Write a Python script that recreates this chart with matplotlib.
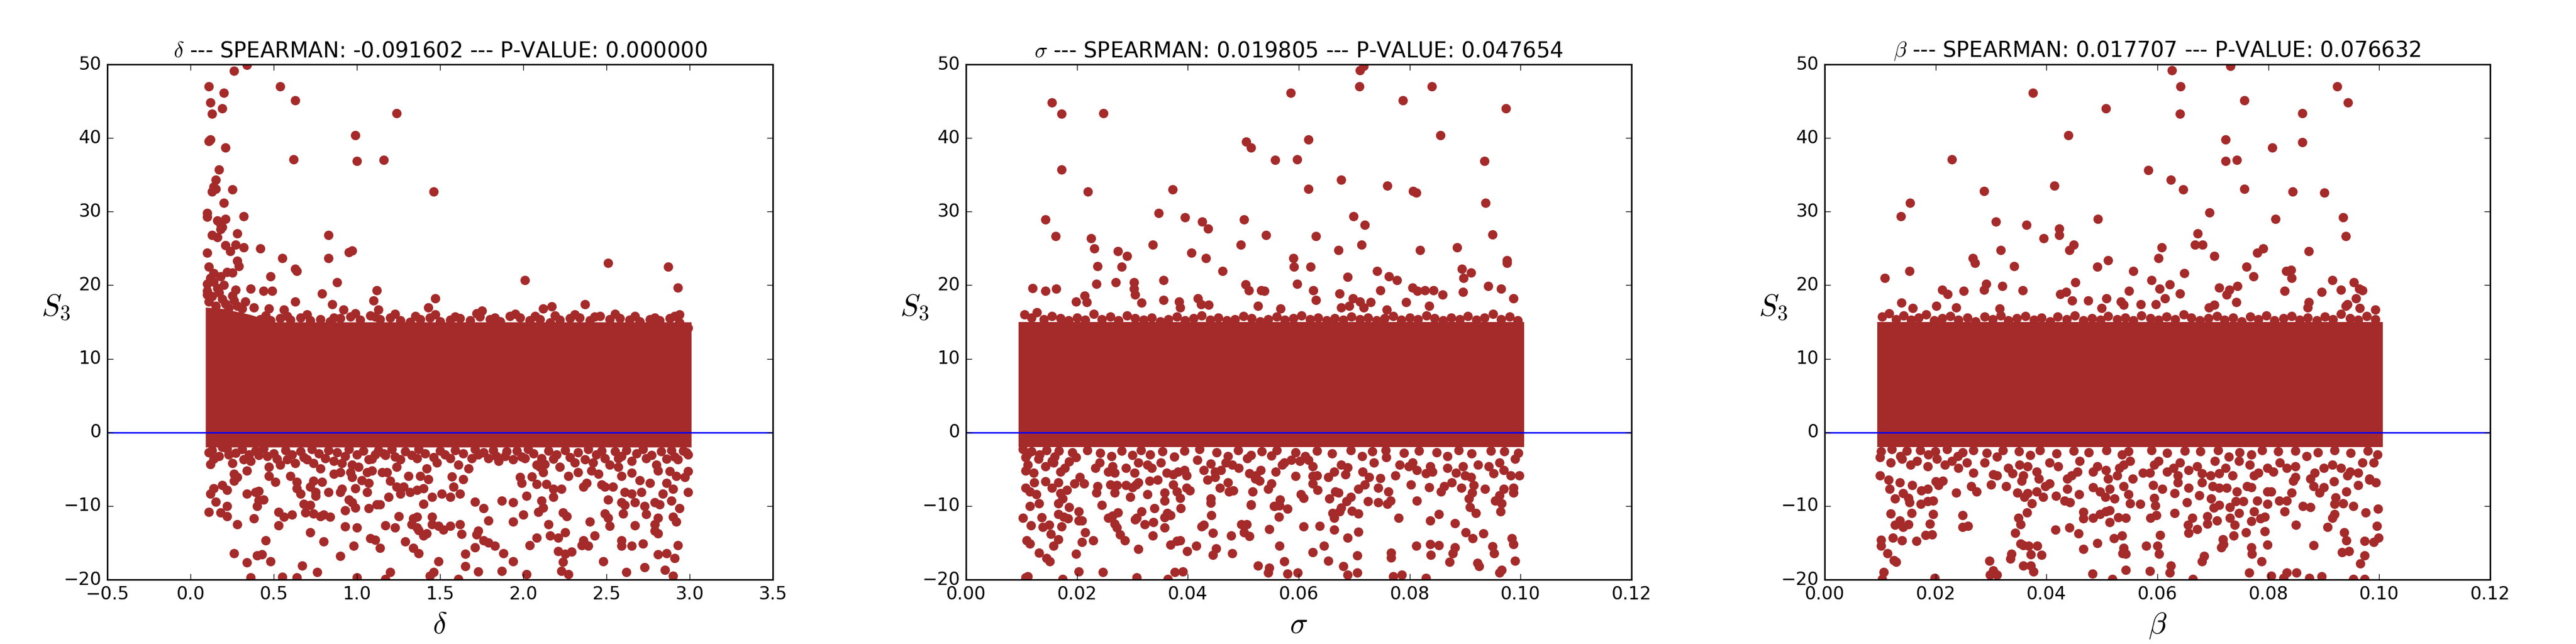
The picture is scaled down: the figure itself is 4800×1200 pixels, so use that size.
import numpy as np
import matplotlib
matplotlib.use('Agg')
import matplotlib.pyplot as plt

plt.style.use('classic')

# ---- panel titles / labels ----
params = [r'\delta', r'\sigma', r'\beta']
spearman = ['-0.091602', '0.019805', '0.017707']
pvalue = ['0.000000', '0.047654', '0.076632']
xlims = [(-0.5, 3.5), (0.0, 0.12), (0.0, 0.12)]
ylim = (-20, 50)

# ---- dense core of each cloud: x range, top and bottom edge ----
core_x = [[0.09, 0.20, 0.36, 0.50, 3.01], [0.0095, 0.1006], [0.0095, 0.1006]]
core_top = [[17.0, 16.8, 16.0, 15.0, 15.0], [15.0, 15.0], [15.0, 15.0]]
core_bot = [[-2.0, -2.0, -2.0, -2.0, -2.0], [-2.0, -2.0], [-2.0, -2.0]]

# ---- delta: points above the core ----
delta_high = [
    (0.11, 47.0), (0.20, 46.1), (0.12, 44.8), (0.19, 44.0), (0.13, 43.3), (0.26, 49.1),
    (0.34, 49.9), (0.54, 47.0), (0.63, 45.1), (1.24, 43.4), (0.99, 40.4), (1.00, 36.9),
    (0.62, 37.1), (1.16, 37.0), (1.46, 32.7), (0.11, 39.6), (0.12, 39.8), (0.21, 38.7),
    (0.17, 35.7), (0.15, 34.3), (0.14, 33.4), (0.15, 33.1), (0.13, 32.7), (0.25, 33.0),
    (0.20, 31.2), (0.10, 29.8), (0.10, 29.3), (0.32, 29.4), (0.21, 29.0), (0.16, 28.8),
    (0.18, 28.3), (0.19, 27.9), (0.18, 27.6), (0.13, 26.8), (0.16, 26.5), (0.28, 27.0),
    (0.83, 26.8), (0.21, 25.4), (0.27, 25.5), (0.32, 25.1), (0.42, 25.0), (0.24, 24.6),
    (0.95, 24.5), (0.97, 24.7), (0.10, 24.4), (0.55, 23.7), (0.83, 23.7), (0.28, 23.3),
    (0.29, 22.6), (2.51, 23.0), (2.87, 22.5), (0.11, 22.5), (0.63, 22.2), (0.64, 21.9),
    (0.22, 21.8), (0.25, 21.7), (0.48, 21.2), (2.01, 20.7), (0.88, 20.4), (2.93, 19.7),
    (0.10, 20.2), (0.12, 20.8), (0.14, 21.6), (0.27, 19.4), (0.36, 19.5), (0.49, 19.2),
    (0.44, 19.2), (0.79, 18.9), (1.12, 19.3), (1.47, 18.2), (0.10, 18.7), (0.63, 17.8),
    (1.10, 17.9), (0.85, 17.4), (1.43, 17.0), (2.37, 17.4), (2.17, 17.1), (2.12, 16.8),
    (2.94, 16.0), (1.75, 16.5), (0.92, 16.7), (1.13, 16.7), (0.47, 16.8), (0.56, 16.7),
    (0.11, 17.8), (0.13, 18.5), (0.15, 17.2), (0.17, 19.0), (0.19, 18.1), (0.21, 17.5),
    (0.23, 16.9), (0.26, 17.9), (0.28, 17.2), (0.31, 16.8), (0.14, 20.5), (0.16, 19.6),
    (0.20, 20.0), (0.25, 18.6), (0.33, 17.8), (0.38, 17.0), (0.10, 19.2), (0.12, 21.0),
    (0.18, 21.2),
]

# ---- delta: points below the core ----
delta_low = [
    (0.11, -2.7), (0.19, -2.0), (0.12, -4.3), (0.14, -3.6), (0.23, -3.0), (0.25, -4.2),
    (0.32, -3.7), (0.36, -3.9), (0.41, -3.1), (0.46, -3.2), (0.47, -4.7), (0.54, -4.4),
    (0.58, -3.7), (0.63, -4.2), (0.70, -3.7), (0.74, -4.2), (0.78, -4.9), (0.86, -3.9),
    (0.91, -4.2), (0.97, -4.4), (1.01, -4.7), (1.07, -3.7), (1.11, -3.0), (1.17, -3.1),
    (1.24, -4.7), (1.26, -3.7), (1.36, -3.5), (1.42, -4.9), (1.48, -4.1), (1.56, -3.5),
    (1.61, -4.4), (1.67, -4.9), (1.73, -3.0), (1.79, -3.5), (1.85, -3.9), (1.89, -3.2),
    (1.94, -3.7), (2.01, -3.5), (2.08, -4.4), (2.13, -4.3), (2.18, -3.6), (2.22, -4.7),
    (2.31, -4.1), (2.37, -3.7), (2.42, -4.1), (2.49, -3.5), (2.52, -4.4), (2.59, -3.2),
    (2.65, -3.9), (2.74, -3.5), (2.80, -4.4), (2.86, -3.6), (2.93, -3.7), (2.98, -2.7),
    (0.34, -5.2), (0.26, -5.6), (0.28, -6.1), (0.26, -6.6), (0.19, -7.2), (0.14, -7.6),
    (0.12, -8.3), (0.22, -7.8), (0.15, -9.4), (0.22, -10.0), (0.11, -10.8), (0.18, -10.9),
    (0.22, -11.4), (0.28, -12.5), (0.34, -8.3), (0.39, -8.1), (0.41, -8.0), (0.41, -9.2),
    (0.44, -9.1), (0.40, -10.0), (0.38, -11.7), (0.47, -5.9), (0.51, -6.7), (0.53, -10.8),
    (0.56, -11.5), (0.61, -11.2), (0.53, -12.6), (0.60, -5.9), (0.64, -6.7), (0.64, -7.6),
    (0.66, -8.3), (0.68, -9.7), (0.69, -10.9), (0.72, -9.9), (0.72, -7.4), (0.74, -6.6),
    (0.75, -8.1), (0.75, -8.6), (0.74, -11.0), (0.78, -11.4), (0.80, -11.2), (0.84, -11.5),
    (0.79, -6.7), (0.83, -8.1), (0.90, -8.1), (0.91, -7.7), (0.86, -5.6), (0.90, -5.4),
    (0.96, -5.4), (0.97, -6.1), (0.99, -7.6), (0.95, -9.1), (0.97, -9.5), (0.99, -10.2),
    (0.93, -10.6), (1.03, -6.5), (1.06, -5.4), (1.07, -6.9), (1.06, -8.1), (1.07, -10.3),
    (1.12, -9.8), (1.14, -9.8), (1.09, -5.2), (1.15, -5.4), (1.18, -5.4), (1.20, -6.6),
    (1.19, -8.8), (1.24, -7.4), (1.26, -8.3), (1.28, -7.4), (1.31, -5.9), (1.32, -8.1),
    (1.36, -7.8), (1.38, -5.9), (1.40, -7.6), (1.43, -6.4), (1.45, -8.8), (1.40, -9.7),
    (1.25, -11.4), (1.34, -11.7), (1.36, -11.5), (1.33, -12.5), (1.36, -12.9), (1.45, -11.5),
    (1.45, -12.5), (1.49, -12.7), (1.52, -13.2), (1.37, -13.3), (1.42, -13.7), (1.40, -14.0),
    (1.17, -12.6), (1.23, -12.9), (0.93, -12.8), (1.00, -12.9), (0.72, -13.6), (0.80, -14.8),
    (0.45, -14.7), (0.26, -16.4), (0.40, -16.7), (0.43, -16.6), (0.34, -17.7), (0.48, -17.5),
    (0.67, -18.1), (0.76, -19.0), (0.90, -16.8), (0.98, -15.4), (1.08, -14.4), (1.11, -14.6),
    (1.14, -15.7), (1.29, -14.8), (1.34, -15.7), (1.37, -16.4), (1.20, -19.0), (1.49, -17.5),
    (1.46, -19.0), (1.44, -19.5), (1.56, -12.7), (1.62, -12.5), (1.63, -13.8), (1.65, -16.5),
    (1.65, -18.2), (1.73, -13.4), (1.72, -13.9), (1.76, -14.7), (1.79, -15.0), (1.71, -15.6),
    (1.83, -15.4), (1.88, -16.4), (1.94, -17.5), (1.87, -18.8), (1.73, -18.9), (1.61, -19.9),
    (1.51, -8.3), (1.56, -8.8), (1.62, -8.3), (1.58, -7.4), (1.57, -6.0), (1.64, -6.4),
    (1.71, -9.4), (1.76, -10.3), (1.79, -12.0), (1.87, -9.3), (1.94, -9.5), (1.94, -12.1),
    (2.00, -11.2), (2.02, -8.6), (2.08, -7.0), (2.05, -6.0), (1.98, -6.1), (1.99, -6.9),
    (2.10, -4.7), (2.12, -5.4), (2.14, -7.0), (2.18, -7.7), (2.23, -7.7), (2.12, -10.2),
    (2.09, -10.8), (2.11, -9.3), (2.18, -8.8), (2.24, -10.9), (2.26, -11.4), (2.15, -12.5),
    (2.25, -13.6), (2.16, -14.0), (2.21, -14.3), (2.08, -14.3), (2.04, -15.3), (2.21, -16.1),
    (2.25, -16.5), (2.29, -16.2), (2.24, -17.6), (2.23, -18.8), (2.27, -19.3), (2.02, -19.3),
    (2.36, -7.4), (2.38, -6.9), (2.33, -5.4), (2.27, -5.9), (2.47, -7.1), (2.49, -7.4),
    (2.51, -9.1), (2.54, -7.4), (2.59, -9.5), (2.61, -8.1), (2.65, -8.3), (2.71, -8.1),
    (2.67, -9.5), (2.61, -9.9), (2.60, -11.0), (2.49, -11.0), (2.51, -11.6), (2.52, -12.7),
    (2.67, -12.6), (2.73, -10.0), (2.74, -11.1), (2.79, -9.5), (2.82, -9.8), (2.84, -8.3),
    (2.89, -9.3), (2.86, -6.9), (2.90, -7.7), (2.94, -10.3), (2.81, -11.6), (2.90, -11.5),
    (2.92, -12.1), (2.79, -12.5), (2.79, -13.4), (2.81, -13.7), (2.93, -15.3), (2.86, -16.4),
    (2.81, -16.6), (2.91, -17.1), (2.72, -15.1), (2.65, -15.4), (2.59, -15.4), (2.59, -14.7),
    (2.43, -14.0), (2.36, -14.7), (2.35, -15.3), (2.39, -15.4), (2.48, -17.5), (2.62, -19.0),
    (2.73, -18.3), (2.85, -18.7), (2.90, -19.5), (2.99, -8.1), (2.99, -5.3), (2.97, -6.1),
    (2.92, -5.9), (2.40, -12.1), (2.41, -5.2), (2.45, -5.6), (2.57, -4.7), (2.59, -5.9),
    (2.65, -5.5), (2.70, -6.5), (2.76, -6.9), (2.81, -5.2), (2.88, -5.3), (0.36, -19.7),
    (0.55, -19.6), (0.64, -19.7), (1.00, -19.7), (1.17, -19.9),
]

# ---- delta: ragged edges of the core ----
delta_edge = [
    (0.42, 15.4), (0.48, 15.2), (0.54, 15.5), (0.60, 15.3), (0.66, 15.6), (0.72, 15.2),
    (0.78, 15.4), (0.84, 15.1), (0.90, 15.5), (0.96, 15.7), (1.02, 15.3), (1.08, 15.9),
    (1.14, 15.4), (1.20, 15.6), (1.26, 15.2), (1.32, 15.0), (1.38, 15.4), (1.44, 15.6),
    (1.50, 15.1), (1.56, 15.3), (1.62, 15.5), (1.68, 15.2), (1.74, 15.7), (1.80, 15.4),
    (1.86, 15.1), (1.92, 15.8), (1.98, 15.6), (2.04, 15.2), (2.10, 15.4), (2.16, 14.9),
    (2.22, 15.3), (2.28, 15.5), (2.34, 15.6), (2.40, 15.2), (2.46, 15.8), (2.52, 15.4),
    (2.58, 15.5), (2.64, 15.3), (2.70, 15.1), (2.76, 15.4), (2.82, 15.2), (2.88, 15.5),
    (2.94, 14.9), (2.99, 14.2),
    (0.45, 15.9), (0.58, 15.8), (0.70, 16.0), (0.86, 15.6), (0.99, 16.2), (1.11, 15.7),
    (1.23, 16.1), (1.35, 15.8), (1.47, 16.0), (1.59, 15.7), (1.72, 16.2), (1.83, 15.6),
    (1.95, 16.1), (2.07, 15.8), (2.19, 15.9), (2.31, 16.0), (2.43, 15.7), (2.55, 16.1),
    (2.67, 15.8), (2.79, 15.6), (2.91, 15.8),
    (0.13, -2.4), (0.17, -3.2), (0.22, -2.2), (0.27, -2.8), (0.31, -2.3), (0.35, -3.0),
    (0.39, -2.5), (0.44, -2.2), (0.50, -2.9), (0.52, -3.6), (0.57, -2.4), (0.61, -3.0),
    (0.66, -2.6), (0.68, -3.4), (0.73, -2.3), (0.77, -2.9), (0.81, -3.5), (0.83, -2.4),
    (0.88, -2.7), (0.93, -3.2), (0.95, -2.3), (1.00, -3.0), (1.04, -2.5), (1.09, -3.6),
    (1.13, -2.4), (1.16, -2.9), (1.21, -2.3), (1.23, -3.3), (1.29, -2.6), (1.33, -3.1),
    (1.37, -2.3), (1.41, -2.9), (1.46, -3.4), (1.50, -2.5), (1.53, -3.0), (1.59, -2.4),
    (1.64, -2.9), (1.69, -3.5), (1.71, -2.3), (1.76, -2.7), (1.82, -2.4), (1.84, -3.2),
    (1.90, -2.6), (1.96, -2.5), (1.99, -3.3), (2.03, -2.3), (2.06, -2.9), (2.11, -3.5),
    (2.15, -2.5), (2.20, -3.0), (2.25, -2.4), (2.28, -3.4), (2.33, -2.7), (2.39, -2.3),
    (2.44, -3.0), (2.47, -2.5), (2.55, -2.6), (2.57, -3.5), (2.62, -2.4), (2.68, -2.9),
    (2.72, -2.3), (2.77, -3.1), (2.83, -2.6), (2.89, -2.4), (2.91, -3.3), (2.96, -2.5),
    (2.99, -3.0),
]

# ---- sigma: points above the core ----
sigma_high = [
    (0.0155, 44.8), (0.0172, 43.3), (0.0248, 43.4), (0.0172, 35.7), (0.0143, 28.9), (0.0162, 26.7),
    (0.0225, 26.4), (0.0231, 25.0), (0.0220, 32.7), (0.0237, 22.6), (0.0281, 22.5), (0.0270, 20.4),
    (0.0303, 20.4), (0.0303, 19.5), (0.0305, 18.7), (0.0316, 17.6), (0.0120, 19.6), (0.0143, 19.2),
    (0.0163, 19.5), (0.0214, 18.6), (0.0218, 17.7), (0.0198, 17.8), (0.0235, 20.2), (0.0274, 24.6),
    (0.0290, 24.0), (0.0337, 25.5), (0.0347, 29.8), (0.0373, 33.0), (0.0395, 29.2), (0.0406, 24.4),
    (0.0426, 28.6), (0.0436, 27.7), (0.0433, 23.7), (0.0356, 20.7), (0.0356, 18.0), (0.0384, 17.8),
    (0.0386, 17.0), (0.0418, 18.2), (0.0424, 17.4), (0.0437, 17.3), (0.0463, 21.9), (0.0495, 25.5),
    (0.0501, 28.9), (0.0505, 39.5), (0.0514, 38.7), (0.0504, 20.1), (0.0510, 19.3), (0.0532, 19.3),
    (0.0538, 19.2), (0.0541, 26.8), (0.0526, 17.2), (0.0557, 37.0), (0.0567, 16.8), (0.0585, 46.1),
    (0.0590, 23.7), (0.0591, 22.5), (0.0597, 37.1), (0.0597, 20.2), (0.0617, 39.8), (0.0617, 33.1),
    (0.0621, 22.5), (0.0626, 19.3), (0.0631, 26.7), (0.0631, 18.0), (0.0672, 24.8), (0.0676, 34.3),
    (0.0674, 18.9), (0.0688, 21.1), (0.0676, 17.0), (0.0691, 17.2), (0.0699, 29.4), (0.0698, 18.2),
    (0.0710, 17.8), (0.0710, 49.2), (0.0717, 49.8), (0.0709, 47.0), (0.0713, 25.5), (0.0719, 28.2),
    (0.0717, 17.0), (0.0730, 17.7), (0.0741, 21.9), (0.0747, 19.3), (0.0759, 16.7), (0.0760, 33.5),
    (0.0763, 21.2), (0.0777, 20.7), (0.0788, 45.1), (0.0794, 17.7), (0.0805, 19.7), (0.0806, 32.8),
    (0.0812, 32.6), (0.0814, 19.2), (0.0819, 24.8), (0.0827, 19.3), (0.0835, 17.2), (0.0840, 47.0),
    (0.0843, 19.3), (0.0855, 40.4), (0.0859, 18.7), (0.0885, 25.1), (0.0894, 22.2), (0.0897, 21.0),
    (0.0911, 21.7), (0.0896, 19.1), (0.0935, 36.9), (0.0937, 31.2), (0.0942, 19.9), (0.0949, 26.9),
    (0.0965, 19.5), (0.0974, 44.0), (0.0975, 23.0), (0.0975, 23.4), (0.0987, 18.2),
]

# ---- sigma: points below the core ----
sigma_low = [
    (0.0107, -3.38), (0.0131, -3.63), (0.0111, -4.36), (0.0107, -5.22), (0.0122, -5.47), (0.0143, -4.61),
    (0.0155, -3.87), (0.0158, -4.12), (0.0170, -5.34), (0.0178, -4.85), (0.0186, -3.99), (0.0198, -3.38),
    (0.0233, -4.85), (0.0241, -4.12), (0.0256, -5.34), (0.0264, -4.61), (0.0268, -5.47), (0.0288, -4.85),
    (0.0304, -5.47), (0.0311, -4.12), (0.0327, -4.36), (0.0335, -4.85), (0.0351, -4.12), (0.0362, -5.47),
    (0.0374, -5.71), (0.0382, -5.34), (0.0394, -5.10), (0.0398, -5.83), (0.0417, -3.75), (0.0429, -5.10),
    (0.0441, -4.24), (0.0449, -5.34), (0.0460, -5.10), (0.0468, -4.12), (0.0480, -4.36), (0.0492, -4.85),
    (0.0507, -3.50), (0.0511, -5.59), (0.0523, -5.83), (0.0531, -5.10), (0.0551, -3.14), (0.0558, -5.34),
    (0.0570, -4.36), (0.0574, -4.12), (0.0594, -5.96), (0.0586, -3.75), (0.0602, -3.87), (0.0617, -3.75),
    (0.0625, -4.61), (0.0625, -5.96), (0.0633, -5.83), (0.0653, -6.08), (0.0664, -5.34), (0.0676, -4.36),
    (0.0684, -5.71), (0.0688, -4.73), (0.0715, -5.34), (0.0727, -6.08), (0.0735, -4.12), (0.0747, -6.20),
    (0.0758, -3.38), (0.0774, -5.83), (0.0782, -4.36), (0.0798, -4.61), (0.0805, -4.12), (0.0813, -5.10),
    (0.0829, -5.59), (0.0837, -4.61), (0.0841, -5.34), (0.0868, -4.85), (0.0884, -5.47), (0.0896, -4.61),
    (0.0900, -5.83), (0.0911, -6.08), (0.0923, -4.36), (0.0943, -4.61), (0.0951, -5.59), (0.0962, -4.12),
    (0.0970, -5.10), (0.0982, -5.83), (0.0990, -3.63), (0.0998, -5.83),
    (0.0107, -7.55), (0.0115, -8.04), (0.0123, -6.81), (0.0127, -8.41), (0.0143, -6.69), (0.0155, -7.55),
    (0.0166, -6.81), (0.0170, -8.28), (0.0174, -9.02), (0.0182, -7.79), (0.0195, -6.94), (0.0205, -6.08),
    (0.0213, -6.94), (0.0237, -7.30), (0.0235, -8.16), (0.0260, -7.06), (0.0268, -8.16), (0.0272, -7.18),
    (0.0288, -7.18), (0.0296, -8.77), (0.0300, -7.43), (0.0307, -7.06), (0.0311, -6.81), (0.0327, -8.41),
    (0.0331, -6.57), (0.0345, -6.45), (0.0358, -8.16), (0.0358, -9.27), (0.0374, -7.06), (0.0380, -8.04),
    (0.0386, -8.90), (0.0398, -7.55), (0.0404, -7.92), (0.0435, -6.45), (0.0441, -9.02), (0.0441, -9.56),
    (0.0449, -6.08), (0.0458, -7.50), (0.0472, -6.81), (0.0474, -8.04), (0.0482, -7.92), (0.0517, -8.04),
    (0.0514, -9.80), (0.0522, -6.32), (0.0529, -6.57), (0.0545, -7.67), (0.0551, -6.94), (0.0566, -9.14),
    (0.0555, -10.00), (0.0604, -8.41), (0.0609, -8.90), (0.0634, -7.79), (0.0625, -6.94), (0.0655, -9.02),
    (0.0666, -8.04), (0.0672, -8.16), (0.0686, -9.39), (0.0694, -8.77), (0.0707, -7.67), (0.0719, -7.06),
    (0.0725, -9.39), (0.0743, -7.55), (0.0743, -9.51), (0.0762, -8.04), (0.0760, -9.75), (0.0765, -9.27),
    (0.0802, -7.06), (0.0813, -9.27), (0.0835, -7.43), (0.0856, -8.04), (0.0862, -7.30), (0.0876, -6.81),
    (0.0893, -7.55), (0.0907, -9.02), (0.0915, -7.18), (0.0913, -8.16), (0.0936, -7.67), (0.0954, -9.27),
    (0.0962, -8.53), (0.0966, -9.63), (0.0970, -7.67), (0.0987, -7.55), (0.0987, -8.16),
    (0.0115, -10.00), (0.0132, -9.63), (0.0166, -9.63), (0.0166, -11.10), (0.0176, -11.47), (0.0186, -10.12),
    (0.0184, -11.72), (0.0203, -10.74), (0.0203, -12.01), (0.0209, -12.01), (0.0103, -11.59), (0.0136, -11.52),
    (0.0117, -12.62), (0.0138, -12.87), (0.0150, -12.57), (0.0172, -12.77), (0.0153, -13.80), (0.0166, -14.53),
    (0.0109, -14.66), (0.0115, -15.10), (0.0158, -15.44), (0.0132, -16.37), (0.0145, -17.11), (0.0151, -17.55),
    (0.0198, -16.49), (0.0203, -18.87), (0.0215, -13.55), (0.0209, -14.90), (0.0229, -14.66), (0.0247, -18.95),
    (0.0245, -9.88), (0.0256, -11.59), (0.0264, -11.35), (0.0274, -10.86), (0.0268, -12.45), (0.0272, -12.94),
    (0.0278, -13.87), (0.0286, -14.71), (0.0311, -15.88), (0.0305, -11.84), (0.0308, -11.59), (0.0316, -10.74),
    (0.0322, -12.52), (0.0338, -12.21), (0.0340, -10.32), (0.0337, -14.04), (0.0358, -12.94), (0.0358, -11.52),
    (0.0363, -10.98), (0.0369, -11.23), (0.0369, -15.27), (0.0380, -14.78), (0.0386, -14.66), (0.0387, -10.29),
    (0.0399, -16.13), (0.0415, -15.44), (0.0376, -18.95), (0.0391, -18.87), (0.0425, -12.75), (0.0429, -12.57),
    (0.0442, -11.23), (0.0445, -13.68), (0.0451, -15.76), (0.0445, -16.62), (0.0478, -14.04), (0.0480, -16.42),
    (0.0496, -12.52), (0.0506, -12.50), (0.0501, -13.55), (0.0511, -14.09), (0.0514, -9.88), (0.0547, -13.14),
    (0.0556, -10.00), (0.0565, -9.95), (0.0564, -11.47), (0.0565, -15.39), (0.0580, -10.37), (0.0574, -17.55),
    (0.0526, -18.14), (0.0547, -18.38), (0.0545, -19.07), (0.0580, -19.19), (0.0598, -19.07), (0.0609, -12.77),
    (0.0638, -12.70), (0.0625, -16.30), (0.0645, -15.39), (0.0653, -17.47), (0.0664, -13.24), (0.0661, -10.98),
    (0.0664, -11.59), (0.0676, -10.25), (0.0680, -18.21), (0.0688, -14.29), (0.0688, -19.31), (0.0674, -10.74),
    (0.0696, -10.66), (0.0707, -11.03), (0.0707, -13.48), (0.0705, -16.74), (0.0705, -19.07), (0.0780, -11.59),
    (0.0766, -16.37), (0.0766, -16.99), (0.0770, -19.56), (0.0786, -19.31), (0.0812, -15.39), (0.0837, -12.01),
    (0.0837, -15.20), (0.0838, -16.67), (0.0853, -11.10), (0.0853, -15.34), (0.0829, -19.80), (0.0872, -17.60),
    (0.0878, -16.42), (0.0882, -15.64), (0.0882, -12.38), (0.0901, -13.60), (0.0914, -14.36), (0.0909, -10.12),
    (0.0919, -10.93), (0.0922, -17.77), (0.0925, -18.21), (0.0933, -13.73), (0.0949, -15.51), (0.0952, -16.42),
    (0.0964, -10.74), (0.0962, -19.07), (0.0966, -18.70), (0.0984, -14.36), (0.0987, -15.22), (0.0990, -17.47),
    (0.0107, -19.68), (0.0111, -19.56), (0.0174, -19.90), (0.0308, -19.68), (0.0364, -19.95),
]

# ---- sigma: ragged edges of the core ----
sigma_edge = [
    (0.0105, 16.0), (0.0118, 15.6), (0.0128, 16.3), (0.0140, 15.4), (0.0155, 15.8), (0.0170, 15.5),
    (0.0185, 15.2), (0.0200, 15.6), (0.0215, 15.3), (0.0230, 16.1), (0.0245, 15.4), (0.0260, 15.7),
    (0.0275, 15.2), (0.0290, 15.9), (0.0305, 15.5), (0.0320, 15.3), (0.0335, 15.6), (0.0350, 15.1),
    (0.0365, 15.4), (0.0380, 15.7), (0.0395, 15.2), (0.0410, 15.5), (0.0425, 15.9), (0.0440, 15.3),
    (0.0455, 15.6), (0.0470, 15.2), (0.0485, 15.4), (0.0500, 15.8), (0.0515, 15.5), (0.0530, 15.1),
    (0.0545, 15.4), (0.0560, 15.7), (0.0575, 15.3), (0.0590, 15.5), (0.0605, 15.9), (0.0620, 15.4),
    (0.0635, 15.6), (0.0650, 15.2), (0.0665, 15.5), (0.0680, 15.3), (0.0695, 15.7), (0.0710, 15.4),
    (0.0725, 15.6), (0.0740, 15.2), (0.0755, 15.5), (0.0770, 15.8), (0.0785, 15.3), (0.0800, 15.6),
    (0.0815, 15.4), (0.0830, 15.9), (0.0845, 15.5), (0.0860, 15.2), (0.0875, 15.6), (0.0890, 15.4),
    (0.0905, 15.8), (0.0920, 15.3), (0.0935, 15.6), (0.0950, 16.1), (0.0965, 15.4), (0.0980, 15.7),
    (0.0995, 15.2),
    (0.0103, -2.3), (0.0110, -3.0), (0.0118, -2.6), (0.0133, -3.0), (0.0145, -2.4), (0.0160, -3.3),
    (0.0167, -2.5), (0.0192, -2.7), (0.0219, -2.4), (0.0242, -2.8), (0.0262, -3.2), (0.0281, -2.5),
    (0.0300, -3.1), (0.0315, -2.4), (0.0332, -3.0), (0.0354, -2.6), (0.0375, -3.3), (0.0394, -2.5),
    (0.0421, -2.3), (0.0452, -2.7), (0.0472, -3.2), (0.0491, -2.4), (0.0514, -3.1), (0.0533, -2.6),
    (0.0560, -2.4), (0.0594, -2.7), (0.0612, -3.2), (0.0633, -2.5), (0.0660, -2.9), (0.0694, -2.4),
    (0.0714, -3.2), (0.0733, -2.6), (0.0757, -2.4), (0.0790, -2.8), (0.0817, -2.5), (0.0849, -2.7),
    (0.0868, -3.2), (0.0888, -2.4), (0.0912, -2.9), (0.0946, -2.5), (0.0971, -2.6), (0.0996, -2.8),
]

# ---- beta: points above the core ----
beta_high = [
    (0.0108, 21.0), (0.0137, 29.4), (0.0154, 31.2), (0.0153, 21.9), (0.0138, 17.6), (0.0159, 16.9),
    (0.0229, 37.1), (0.0212, 19.4), (0.0222, 18.8), (0.0201, 17.2), (0.0251, 19.2), (0.0237, 17.0),
    (0.0267, 23.7), (0.0271, 23.0), (0.0287, 32.8), (0.0291, 20.2), (0.0287, 19.4), (0.0309, 28.6),
    (0.0317, 24.8), (0.0320, 19.9), (0.0315, 16.8), (0.0342, 22.6), (0.0357, 19.3), (0.0364, 28.2),
    (0.0375, 46.1), (0.0395, 26.4), (0.0414, 33.5), (0.0423, 27.7), (0.0423, 26.8), (0.0425, 18.8),
    (0.0435, 19.1), (0.0439, 40.4), (0.0441, 24.8), (0.0449, 25.5), (0.0446, 17.9), (0.0452, 20.4),
    (0.0475, 17.9), (0.0492, 22.5), (0.0493, 29.0), (0.0499, 16.9), (0.0507, 44.0), (0.0511, 23.4),
    (0.0508, 18.2), (0.0534, 17.8), (0.0539, 17.3), (0.0549, 19.2), (0.0556, 21.9), (0.0570, 17.4),
    (0.0584, 35.6), (0.0589, 20.7), (0.0597, 17.4), (0.0602, 23.7), (0.0604, 19.5), (0.0608, 25.1),
    (0.0614, 18.2), (0.0622, 20.1), (0.0624, 34.3), (0.0626, 49.2), (0.0641, 18.9), (0.0642, 47.0),
    (0.0641, 43.3), (0.0646, 33.0), (0.0648, 21.6), (0.0668, 25.5), (0.0681, 25.5), (0.0673, 27.0),
    (0.0693, 17.0), (0.0703, 17.3), (0.0694, 29.9), (0.0703, 24.0), (0.0711, 19.7), (0.0723, 39.8),
    (0.0723, 36.9), (0.0725, 18.7), (0.0730, 19.4), (0.0732, 49.8), (0.0743, 37.0), (0.0742, 17.7),
    (0.0744, 19.9), (0.0757, 45.1), (0.0757, 33.1), (0.0761, 22.5), (0.0773, 21.2), (0.0780, 24.4),
    (0.0791, 25.0), (0.0807, 38.7), (0.0813, 29.0), (0.0829, 19.2), (0.0832, 21.9), (0.0841, 22.1),
    (0.0842, 21.0), (0.0844, 32.7), (0.0861, 43.4), (0.0861, 39.4), (0.0873, 24.6), (0.0873, 17.7),
    (0.0871, 17.0), (0.0896, 19.1), (0.0901, 32.6), (0.0915, 20.7), (0.0924, 47.0), (0.0931, 19.4),
    (0.0935, 29.2), (0.0940, 26.7), (0.0944, 44.8), (0.0940, 17.2), (0.0943, 17.4), (0.0954, 20.4),
    (0.0958, 18.2), (0.0964, 19.5), (0.0970, 19.3), (0.0965, 16.9), (0.0993, 16.7),
]

# ---- beta: points below the core ----
beta_low = [
    (0.0100, -3.38), (0.0119, -4.12), (0.0139, -3.63), (0.0155, -4.36), (0.0166, -3.87), (0.0186, -4.61),
    (0.0202, -3.63), (0.0217, -4.36), (0.0229, -3.87), (0.0241, -4.85), (0.0256, -4.12), (0.0268, -5.47),
    (0.0288, -4.12), (0.0304, -5.71), (0.0311, -5.83), (0.0331, -4.85), (0.0339, -5.59), (0.0351, -4.36),
    (0.0358, -5.83), (0.0366, -4.61), (0.0382, -5.34), (0.0386, -6.32), (0.0405, -4.12), (0.0421, -4.61),
    (0.0437, -6.32), (0.0445, -5.83), (0.0456, -5.34), (0.0460, -3.87), (0.0484, -5.34), (0.0492, -4.61),
    (0.0507, -5.10), (0.0511, -6.32), (0.0527, -5.83), (0.0531, -4.85), (0.0539, -4.36), (0.0551, -3.87),
    (0.0555, -6.32), (0.0574, -5.47), (0.0586, -5.47), (0.0594, -4.36), (0.0602, -3.87), (0.0617, -5.34),
    (0.0629, -4.85), (0.0637, -5.83), (0.0641, -4.12), (0.0656, -5.10), (0.0672, -4.61), (0.0680, -5.59),
    (0.0696, -5.83), (0.0704, -3.87), (0.0711, -5.59), (0.0723, -4.85), (0.0735, -5.83), (0.0747, -3.87),
    (0.0766, -4.36), (0.0774, -5.83), (0.0782, -5.47), (0.0798, -4.85), (0.0809, -5.34), (0.0821, -4.12),
    (0.0833, -4.85), (0.0849, -4.61), (0.0849, -6.08), (0.0876, -6.32), (0.0884, -5.47), (0.0900, -4.85),
    (0.0915, -4.36), (0.0931, -4.85), (0.0943, -5.83), (0.0947, -5.34), (0.0962, -5.47), (0.0970, -4.12),
    (0.0982, -6.32), (0.0990, -4.12), (0.0994, -6.81),
    (0.0100, -5.83), (0.0115, -6.45), (0.0117, -7.67), (0.0127, -9.02), (0.0135, -6.81), (0.0141, -8.28),
    (0.0151, -8.90), (0.0153, -9.51), (0.0158, -7.18), (0.0174, -7.92), (0.0186, -7.67), (0.0173, -9.75),
    (0.0186, -9.39), (0.0195, -9.27), (0.0200, -6.69), (0.0205, -7.18), (0.0213, -6.57), (0.0237, -8.16),
    (0.0264, -7.30), (0.0274, -8.04), (0.0300, -7.06), (0.0327, -7.30), (0.0347, -8.16), (0.0355, -6.57),
    (0.0360, -8.77), (0.0366, -8.28), (0.0374, -9.63), (0.0382, -8.04), (0.0394, -8.77), (0.0398, -7.30),
    (0.0405, -6.94), (0.0417, -8.65), (0.0433, -9.27), (0.0437, -7.67), (0.0442, -9.51), (0.0459, -8.41),
    (0.0484, -7.43), (0.0496, -8.04), (0.0506, -8.77), (0.0514, -7.67), (0.0523, -9.02), (0.0539, -7.30),
    (0.0548, -8.41), (0.0551, -9.63), (0.0569, -9.75), (0.0592, -7.18), (0.0594, -8.90), (0.0596, -9.95),
    (0.0609, -7.67), (0.0631, -8.28), (0.0637, -6.81), (0.0653, -9.51), (0.0656, -7.55), (0.0675, -8.58),
    (0.0680, -6.81), (0.0697, -9.02), (0.0700, -7.30), (0.0711, -7.55), (0.0725, -7.55), (0.0741, -9.39),
    (0.0743, -8.04), (0.0755, -9.39), (0.0762, -7.30), (0.0769, -7.43), (0.0780, -9.27), (0.0798, -9.75),
    (0.0798, -8.04), (0.0805, -8.04), (0.0820, -9.27), (0.0833, -9.27), (0.0842, -8.16), (0.0845, -6.57),
    (0.0862, -10.00), (0.0876, -10.12), (0.0882, -7.30), (0.0892, -8.16), (0.0900, -7.43), (0.0918, -6.69),
    (0.0921, -8.82), (0.0919, -9.71), (0.0935, -9.63), (0.0941, -8.04), (0.0953, -10.00), (0.0962, -7.18),
    (0.0982, -6.45),
    (0.0119, -11.03), (0.0135, -11.96), (0.0127, -12.57), (0.0141, -12.82), (0.0151, -12.50), (0.0157, -10.98),
    (0.0190, -12.45), (0.0195, -11.10), (0.0182, -13.97), (0.0194, -13.87), (0.0102, -14.58), (0.0102, -15.39),
    (0.0123, -14.29), (0.0139, -14.66), (0.0165, -14.78), (0.0113, -16.42), (0.0125, -17.35), (0.0129, -17.60),
    (0.0106, -18.95), (0.0104, -19.93), (0.0198, -19.80), (0.0249, -11.23), (0.0249, -12.87), (0.0258, -12.70),
    (0.0297, -17.47), (0.0298, -19.31), (0.0304, -18.77), (0.0311, -19.31), (0.0335, -17.16), (0.0337, -16.49),
    (0.0344, -13.63), (0.0349, -11.59), (0.0353, -12.50), (0.0365, -10.86), (0.0353, -15.10), (0.0358, -15.32),
    (0.0368, -15.44), (0.0383, -15.44), (0.0358, -18.14), (0.0372, -18.14), (0.0376, -18.90), (0.0372, -16.57),
    (0.0391, -16.62), (0.0416, -13.19), (0.0441, -12.94), (0.0458, -13.73), (0.0466, -10.78), (0.0466, -11.72),
    (0.0466, -15.88), (0.0484, -11.59), (0.0492, -15.02), (0.0496, -11.10), (0.0507, -10.74), (0.0514, -10.61),
    (0.0514, -12.21), (0.0529, -11.52), (0.0543, -11.59), (0.0536, -14.04), (0.0522, -14.41), (0.0539, -15.69),
    (0.0537, -16.42), (0.0543, -16.49), (0.0543, -18.70), (0.0483, -19.19), (0.0519, -19.90), (0.0580, -15.39),
    (0.0586, -18.82), (0.0600, -15.39), (0.0603, -16.49), (0.0598, -11.27), (0.0587, -11.59), (0.0605, -13.92),
    (0.0631, -10.98), (0.0624, -18.14), (0.0622, -19.07), (0.0655, -12.57), (0.0663, -11.59), (0.0656, -13.63),
    (0.0672, -13.11), (0.0684, -16.81), (0.0680, -17.55), (0.0690, -11.42), (0.0690, -12.45), (0.0707, -12.01),
    (0.0702, -10.25), (0.0711, -9.88), (0.0731, -10.12), (0.0731, -11.59), (0.0739, -12.57), (0.0737, -14.04),
    (0.0718, -14.53), (0.0719, -15.20), (0.0715, -15.64), (0.0747, -10.93), (0.0760, -13.55), (0.0769, -12.08),
    (0.0774, -10.74), (0.0786, -11.72), (0.0794, -11.47), (0.0794, -13.43), (0.0769, -15.64), (0.0770, -16.49),
    (0.0788, -17.55), (0.0798, -15.27), (0.0829, -10.74), (0.0850, -12.57), (0.0882, -15.32), (0.0907, -12.87),
    (0.0915, -11.59), (0.0919, -11.10), (0.0937, -13.60), (0.0941, -14.66), (0.0933, -16.30), (0.0945, -16.13),
    (0.0975, -10.86), (0.0998, -10.37), (0.0996, -12.70), (0.0974, -14.73), (0.0990, -14.90), (0.0999, -14.34),
    (0.0974, -16.74), (0.0966, -17.79), (0.0765, -19.07), (0.0805, -19.51), (0.0833, -19.07), (0.0851, -19.07),
    (0.0874, -19.75), (0.0896, -19.56), (0.0827, -19.80), (0.0664, -19.95), (0.0953, -19.95), (0.0974, -19.95),
]

# ---- beta: ragged edges of the core ----
beta_edge = [
    (0.0104, 15.7), (0.0116, 16.2), (0.0129, 15.4), (0.0142, 15.9), (0.0156, 15.3), (0.0169, 15.6),
    (0.0183, 16.0), (0.0197, 15.2), (0.0212, 15.5), (0.0226, 15.8), (0.0241, 15.3), (0.0257, 15.6),
    (0.0272, 15.1), (0.0288, 15.7), (0.0303, 15.4), (0.0317, 15.9), (0.0331, 15.2), (0.0346, 15.5),
    (0.0362, 15.8), (0.0377, 15.3), (0.0391, 15.6), (0.0406, 15.1), (0.0420, 15.7), (0.0436, 15.4),
    (0.0451, 15.9), (0.0466, 15.2), (0.0482, 15.5), (0.0497, 15.3), (0.0511, 15.8), (0.0527, 15.4),
    (0.0542, 15.6), (0.0556, 15.2), (0.0571, 15.9), (0.0587, 15.5), (0.0602, 15.3), (0.0616, 15.7),
    (0.0632, 15.4), (0.0647, 16.0), (0.0661, 15.6), (0.0676, 15.2), (0.0692, 15.5), (0.0707, 15.8),
    (0.0721, 15.3), (0.0736, 15.6), (0.0752, 15.1), (0.0767, 15.7), (0.0782, 15.4), (0.0796, 15.9),
    (0.0811, 15.2), (0.0827, 15.5), (0.0842, 15.8), (0.0856, 15.3), (0.0871, 15.6), (0.0887, 15.2),
    (0.0902, 15.7), (0.0916, 15.4), (0.0931, 16.1), (0.0947, 15.5), (0.0962, 15.3), (0.0977, 15.8),
    (0.0993, 15.4),
    (0.0102, -2.6), (0.0121, -2.3), (0.0136, -3.2), (0.0148, -2.5), (0.0172, -2.4), (0.0187, -3.0),
    (0.0199, -2.6), (0.0221, -2.3), (0.0240, -3.2), (0.0249, -2.7), (0.0268, -2.4), (0.0292, -2.8),
    (0.0311, -3.3), (0.0321, -2.4), (0.0350, -2.6), (0.0371, -3.1), (0.0388, -2.4), (0.0418, -2.9),
    (0.0449, -2.5), (0.0476, -2.7), (0.0508, -2.4), (0.0536, -3.0), (0.0548, -2.6), (0.0589, -2.4),
    (0.0617, -2.8), (0.0649, -2.5), (0.0677, -2.6), (0.0709, -2.4), (0.0729, -3.3), (0.0748, -2.7),
    (0.0769, -3.0), (0.0789, -2.4), (0.0818, -2.6), (0.0849, -2.5), (0.0869, -3.2), (0.0889, -2.7),
    (0.0919, -2.4), (0.0948, -2.8), (0.0979, -2.5), (0.0997, -3.0),
]

highs = [delta_high, sigma_high, beta_high]
lows = [delta_low, sigma_low, beta_low]
edges = [delta_edge, sigma_edge, beta_edge]

color = 'brown'

fig = plt.figure(figsize=(24, 6), dpi=200)
for i in range(3):
    ax = fig.add_axes([(i + 0.125) / 3.0, 0.1, 0.775 / 3.0, 0.8])
    ax.fill_between(core_x[i], core_bot[i], core_top[i], color=color, lw=0)
    for pts in (highs[i], lows[i], edges[i]):
        pts = np.array(pts)
        ax.plot(pts[:, 0], pts[:, 1], 'o', color=color, mec=color, ms=5.8)
    ax.axhline(0, color='b', lw=1)
    ax.set_xlim(xlims[i])
    ax.set_ylim(ylim)
    ax.set_title(r'$%s$ --- SPEARMAN: %s --- P-VALUE: %s' % (params[i], spearman[i], pvalue[i]))
    ax.set_xlabel(r'$%s$' % params[i], fontsize=20)
    ax.set_ylabel(r'$S_3$', fontsize=20, rotation=0)

fig.savefig('out.png', dpi=200)
